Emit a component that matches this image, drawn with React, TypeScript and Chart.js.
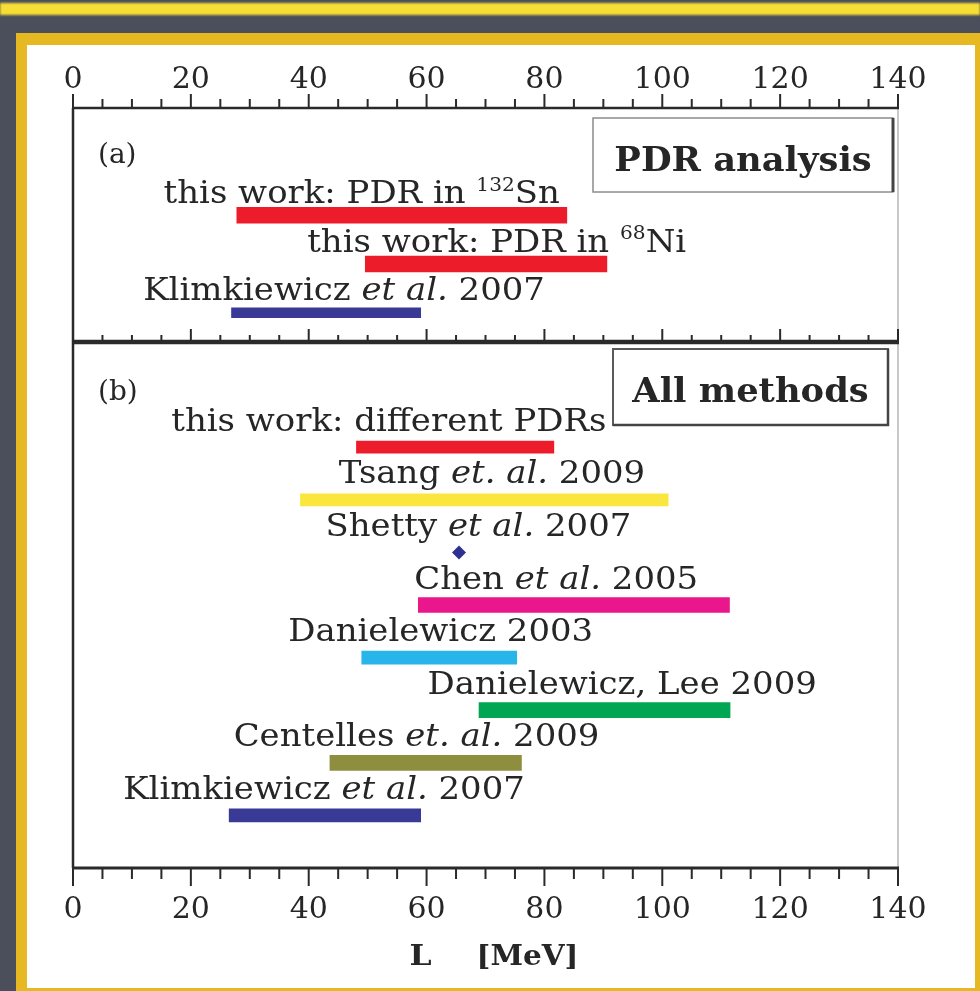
import { useEffect, useRef } from 'react';
import { Chart, registerables } from 'chart.js';

Chart.register(...registerables);

// Symmetry-energy slope L [MeV]: axis range and labelled ticks
const L_MIN = 0;
const L_MAX = 140;
const L_TICK_LABELS = [0, 20, 40, 60, 80, 100, 120, 140];
const L_MINOR_STEP = 5;

// Panel (a): PDR analysis.  ^{..} = superscript, _.._ = italic
const labelsA = ['this work: PDR in ^{132}Sn', 'this work: PDR in ^{68}Ni', 'Klimkiewicz _et al._ 2007'];
const lowA = [27.8, 49.6, 26.9];
const highA = [83.8, 90.6, 59.0];
const labelCenterA = [49.0, 71.9, 46.0];
const colorsA = ['#ec1c2a', '#ec1c2a', '#383a96'];

// Panel (b): all methods
const labelsB = [
  'this work: different PDRs',
  'Tsang _et. al._ 2009',
  'Shetty _et al._ 2007',
  'Chen _et al._ 2005',
  'Danielewicz 2003',
  'Danielewicz, Lee 2009',
  'Centelles _et. al._ 2009',
  'Klimkiewicz _et al._ 2007',
];
const lowB = [48.1, 38.6, null, 58.6, 49.0, 68.9, 43.6, 26.5];
const highB = [81.6, 101.0, null, 111.4, 75.3, 111.5, 76.1, 59.0];
const pointB = [null, null, 65.5, null, null, null, null, null];
const labelCenterB = [53.6, 71.1, 68.8, 82.0, 62.4, 93.2, 58.3, 42.6];
const colorsB = ['#ec1c2a', '#fbe63e', '#2e3192', '#ea168c', '#27b5ea', '#00a652', '#8e8f3e', '#383a96'];

// bar heights in px
const BAR_PX_A = [16, 16, 10];
const BAR_PX_B = [12, 12, 0, 15, 13, 15, 15, 13];

const SERIF = '"DejaVu Serif", "Liberation Serif", serif';
const INK = '#262626';
const STRETCH = 1.06; // horizontal widening of the serif text

type Seg = { text: string; kind: 'normal' | 'italic' | 'sup' };

function parseRich(s: string): Seg[] {
  const out: Seg[] = [];
  const re = /\^\{([^}]*)\}|_([^_]*)_/g;
  let last = 0;
  let m: RegExpExecArray | null;
  while ((m = re.exec(s))) {
    if (m.index > last) out.push({ text: s.slice(last, m.index), kind: 'normal' });
    if (m[1] !== undefined) out.push({ text: m[1], kind: 'sup' });
    else out.push({ text: m[2], kind: 'italic' });
    last = re.lastIndex;
  }
  if (last < s.length) out.push({ text: s.slice(last), kind: 'normal' });
  return out;
}

function drawRich(ctx: CanvasRenderingContext2D, s: string, cx: number, baseline: number, size: number, sx: number) {
  const segs = parseRich(s);
  const fontFor = (g: Seg) =>
    g.kind === 'italic'
      ? `italic ${size}px ${SERIF}`
      : g.kind === 'sup'
      ? `${Math.round(size * 0.6)}px ${SERIF}`
      : `${size}px ${SERIF}`;
  const widths = segs.map((g) => {
    ctx.font = fontFor(g);
    return ctx.measureText(g.text).width;
  });
  const total = widths.reduce((a, b) => a + b, 0);
  ctx.save();
  ctx.translate(cx - (total * sx) / 2, baseline);
  ctx.scale(sx, 1);
  ctx.textAlign = 'left';
  ctx.textBaseline = 'alphabetic';
  let x = 0;
  segs.forEach((g, i) => {
    ctx.font = fontFor(g);
    ctx.fillText(g.text, x, g.kind === 'sup' ? -size * 0.38 : 0);
    x += widths[i];
  });
  ctx.restore();
}

function drawStretched(ctx: CanvasRenderingContext2D, s: string, cx: number, baseline: number, font: string, sx: number) {
  ctx.save();
  ctx.font = font;
  ctx.textAlign = 'center';
  ctx.textBaseline = 'alphabetic';
  ctx.translate(cx, baseline);
  ctx.scale(sx, 1);
  ctx.fillText(s, 0, 0);
  ctx.restore();
}

const panelDecor = {
  id: 'panelDecor',
  afterDatasetsDraw(chart: any) {
    const { ctx, chartArea: ca } = chart;
    const xs = chart.scales.x;
    const ya = chart.scales.ya;
    const yb = chart.scales.yb;
    const divY = yb.top;
    ctx.save();

    // frame lines
    ctx.lineCap = 'butt';
    ctx.strokeStyle = '#c9c9c9';
    ctx.lineWidth = 2;
    ctx.beginPath();
    ctx.moveTo(ca.right, ca.top);
    ctx.lineTo(ca.right, ca.bottom);
    ctx.stroke();

    ctx.strokeStyle = '#2a2a2a';
    ctx.lineWidth = 2.5;
    ctx.beginPath();
    ctx.moveTo(ca.left, ca.top);
    ctx.lineTo(ca.left, ca.bottom);
    ctx.stroke();

    const hline = (y: number, w: number) => {
      ctx.lineWidth = w;
      ctx.beginPath();
      ctx.moveTo(ca.left - 1, y);
      ctx.lineTo(ca.right + 1, y);
      ctx.stroke();
    };
    hline(ca.top, 2.5);
    hline(divY, 4.5);
    hline(ca.bottom, 3);

    // tick marks: outward on top and bottom, upward along the divider
    ctx.lineWidth = 2;
    for (let v = L_MIN; v <= L_MAX; v += L_MINOR_STEP) {
      const px = xs.getPixelForValue(v);
      const major = v % 20 === 0;
      ctx.beginPath();
      ctx.moveTo(px, ca.top);
      ctx.lineTo(px, ca.top - (major ? 14 : 9));
      ctx.moveTo(px, divY);
      ctx.lineTo(px, divY - (major ? 13 : 7));
      ctx.moveTo(px, ca.bottom);
      ctx.lineTo(px, ca.bottom + (major ? 18 : 11));
      ctx.stroke();
    }

    // tick labels
    ctx.fillStyle = INK;
    L_TICK_LABELS.forEach((v) => {
      const px = xs.getPixelForValue(v);
      drawStretched(ctx, String(v), px, ca.top - 20, `30px ${SERIF}`, 1.0);
      drawStretched(ctx, String(v), px, ca.bottom + 50, `30px ${SERIF}`, 1.0);
    });

    // axis title
    const mid = (ca.left + ca.right) / 2;
    drawStretched(ctx, 'L', mid - 65, ca.bottom + 97, `bold 28px ${SERIF}`, 1.12);
    drawStretched(ctx, '[MeV]', mid + 42, ca.bottom + 97, `bold 28px ${SERIF}`, 1.05);

    // panel tags
    ctx.font = `28px ${SERIF}`;
    ctx.textAlign = 'left';
    ctx.textBaseline = 'alphabetic';
    ctx.fillText('(a)', ca.left + 25, ca.top + 55);
    ctx.fillText('(b)', ca.left + 25, divY + 58);

    // legend boxes
    const box = (x0: number, y0: number, x1: number, y1: number, title: string, darkRight: boolean) => {
      ctx.strokeStyle = darkRight ? '#8c8c8c' : '#5a5a5a';
      ctx.lineWidth = darkRight ? 1.5 : 2;
      ctx.strokeRect(x0, y0, x1 - x0, y1 - y0);
      ctx.strokeStyle = '#444';
      ctx.lineWidth = darkRight ? 3 : 2.5;
      ctx.beginPath();
      ctx.moveTo(x1, y0);
      ctx.lineTo(x1, y1);
      if (!darkRight) ctx.lineTo(x0, y1);
      ctx.stroke();
      ctx.fillStyle = INK;
      drawStretched(ctx, title, (x0 + x1) / 2, y0 + 53, `bold 33px ${SERIF}`, 1.07);
    };
    box(ca.right - 305, ca.top + 10, ca.right - 5, ca.top + 84, 'PDR analysis', true);
    box(ca.right - 285, divY + 7, ca.right - 10, divY + 83, 'All methods', false);

    // row labels above each mark
    ctx.fillStyle = INK;
    labelsA.forEach((s, i) => {
      drawRich(ctx, s, xs.getPixelForValue(labelCenterA[i]), ya.getPixelForValue(i + 1) - 12.5, 32, STRETCH);
    });
    labelsB.forEach((s, i) => {
      drawRich(ctx, s, xs.getPixelForValue(labelCenterB[i]), yb.getPixelForValue(i + 1) - 16.5, 32, STRETCH);
    });

    ctx.restore();
  },
};

export default function App() {
  const ref = useRef<HTMLCanvasElement | null>(null);

  useEffect(() => {
    if (!ref.current) return;
    const datasets: any[] = [];
    lowA.forEach((lo, i) => {
      datasets.push({
        type: 'bar',
        label: labelsA[i],
        xAxisID: 'x',
        yAxisID: 'ya',
        data: [{ x: [lo, highA[i]], y: i + 1 }],
        backgroundColor: colorsA[i],
        barThickness: BAR_PX_A[i],
        grouped: false,
        borderWidth: 0,
      });
    });
    lowB.forEach((lo, i) => {
      const hi = highB[i];
      if (lo == null || hi == null) return;
      datasets.push({
        type: 'bar',
        label: labelsB[i],
        xAxisID: 'x',
        yAxisID: 'yb',
        data: [{ x: [lo, hi], y: i + 1 }],
        backgroundColor: colorsB[i],
        barThickness: BAR_PX_B[i],
        grouped: false,
        borderWidth: 0,
      });
    });
    pointB.forEach((p, i) => {
      if (p == null) return;
      datasets.push({
        type: 'scatter',
        label: labelsB[i],
        xAxisID: 'x',
        yAxisID: 'yb',
        data: [{ x: p, y: i + 1 }],
        pointStyle: 'rectRot',
        pointRadius: 7,
        backgroundColor: colorsB[i],
        borderWidth: 0,
      });
    });

    const chart = new Chart(ref.current, {
      type: 'bar',
      data: { datasets },
      options: {
        animation: false,
        responsive: false,
        indexAxis: 'y',
        events: [],
        layout: { padding: { left: 73, right: 82, top: 108, bottom: 123 } },
        plugins: { legend: { display: false }, tooltip: { enabled: false } },
        scales: {
          x: { type: 'linear', min: L_MIN, max: L_MAX, display: false, offset: false },
          ya: {
            type: 'linear', axis: 'y', position: 'left', stack: 'panels', stackWeight: 234, weight: 1,
            min: -1.2, max: 3.6, reverse: true, display: false, offset: false,
          },
          yb: {
            type: 'linear', axis: 'y', position: 'left', stack: 'panels', stackWeight: 526, weight: 0,
            min: -1, max: 9, reverse: true, display: false, offset: false,
          },
        },
      } as any,
      plugins: [panelDecor],
    });
    return () => chart.destroy();
  }, []);

  return (
    <div style={{ position: 'absolute', left: 0, top: 0, width: 980, height: 991, overflow: 'hidden', background: '#4b4f5b' }}>
      {/* chalk stroke along the top */}
      <div style={{ position: 'absolute', left: 0, top: 3, width: 980, height: 12, background: '#f6de34', filter: 'blur(1px)' }} />
      <div style={{ position: 'absolute', left: 16, top: 33, width: 980, height: 980, background: '#e6b923' }} />
      <div style={{ position: 'absolute', left: 27, top: 45, width: 948, height: 943, background: '#ffffff' }} />
      <canvas ref={ref} width={980} height={991} style={{ position: 'absolute', left: 0, top: 0, width: 980, height: 991 }} />
    </div>
  );
}
